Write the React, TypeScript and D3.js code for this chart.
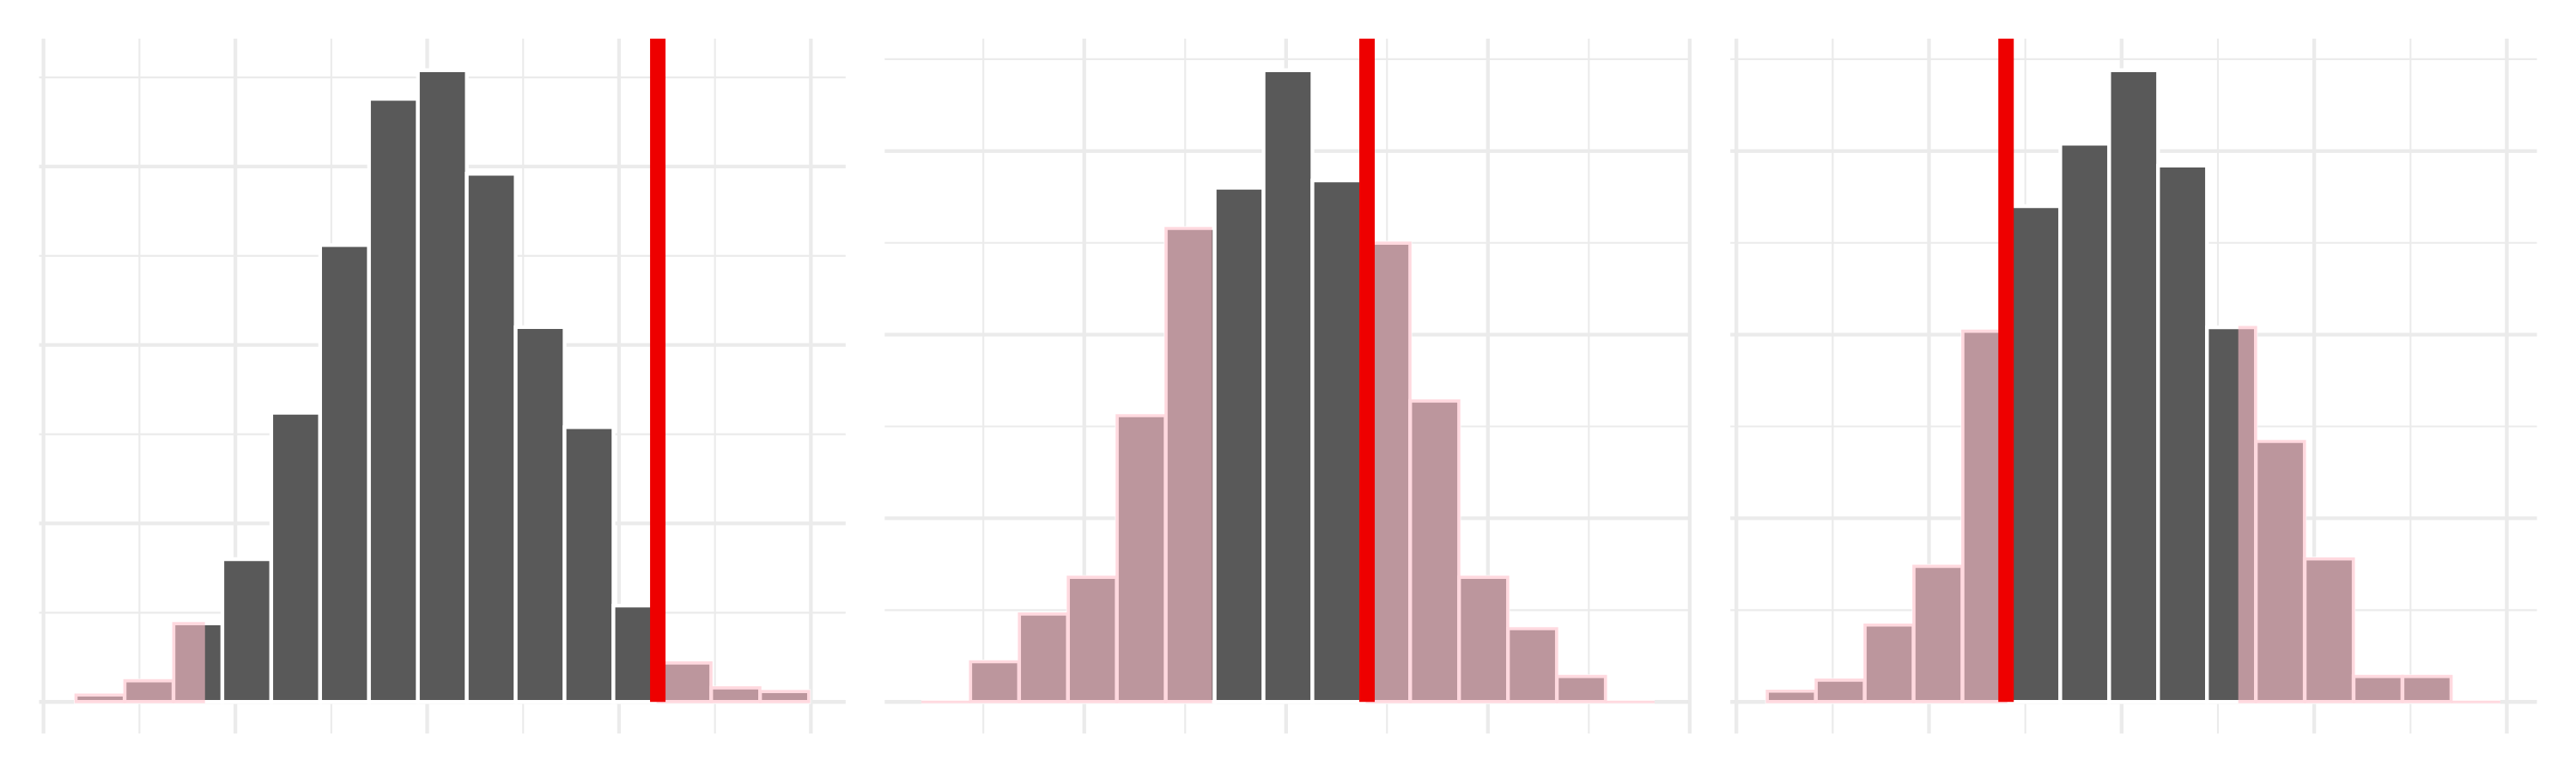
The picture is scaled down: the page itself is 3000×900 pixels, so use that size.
import * as d3 from "d3";
import React, { useEffect, useRef } from "react";

// panel 1 (15 bins)
const binStart1 = -0.1832;
const binWidth1 = 0.02548;
const counts1 = [2, 6, 22, 40, 81, 128, 169, 177, 148, 105, 77, 27, 11, 4, 3];
const obsStat1 = 0.1202;
const mirrorStat1 = -0.1165;

// panel 2
const binStart2 = -0.1807;
const binWidth2 = 0.02422;
const counts2 = [0, 11, 24, 34, 78, 129, 140, 172, 142, 125, 82, 34, 20, 7, 0];
const obsStat2 = 0.0401;
const mirrorStat2 = -0.0373;

// panel 3
const binStart3 = -0.1841;
const binWidth3 = 0.02538;
const counts3 = [3, 6, 21, 37, 101, 135, 152, 172, 146, 102, 71, 39, 7, 7, 0];
const obsStat3 = -0.06;
const mirrorStat3 = 0.06125;

// grid breaks (no labels are shown)
const xMajorBreaks = [-0.2, -0.1, 0, 0.1, 0.2];
const xMinorBreaks = [-0.15, -0.05, 0.05, 0.15];
const yMajorBreaks = [0, 50, 100, 150];
const yMinorBreaks = [25, 75, 125, 175];

const panels = [
  { binStart: binStart1, binWidth: binWidth1, counts: counts1, obs: obsStat1, mirror: mirrorStat1 },
  { binStart: binStart2, binWidth: binWidth2, counts: counts2, obs: obsStat2, mirror: mirrorStat2 },
  { binStart: binStart3, binWidth: binWidth3, counts: counts3, obs: obsStat3, mirror: mirrorStat3 },
];

const colorGrid = "#ebebeb";
const colorBar = "#595959";
const colorShade = "pink";
const colorObs = "#ee0000";

const PermutationPanels = () => {
  const d3Container = useRef(null);

  useEffect(() => {
    const width = 3000;
    const height = 900;
    const margin = { top: 45, right: 45.5, bottom: 46, left: 45.5 };
    const panelGap = 45.5;
    const panelWidth = (width - margin.left - margin.right - 2 * panelGap) / 3;
    const panelTop = margin.top;
    const panelBottom = height - margin.bottom;

    d3.select(d3Container.current).selectAll("*").remove();

    const svg = d3
      .select(d3Container.current)
      .append("svg")
      .attr("width", width)
      .attr("height", height)
      .style("position", "absolute")
      .style("left", 0)
      .style("top", 0)
      .style("background", "#fff");

    const barPath = (x0, x1, y0, y1) => `M${x0},${y0}H${x1}V${y1}H${x0}Z`;

    panels.forEach((p, i) => {
      const left = margin.left + i * (panelWidth + panelGap);
      const right = left + panelWidth;

      const bins = p.counts.map((c, k) => ({
        x0: p.binStart + k * p.binWidth,
        x1: p.binStart + (k + 1) * p.binWidth,
        count: c,
      }));

      // ggplot 스타일 5% 확장
      const xMin = bins[0].x0;
      const xMax = bins[bins.length - 1].x1;
      const xPad = (xMax - xMin) * 0.05;
      const x = d3.scaleLinear().domain([xMin - xPad, xMax + xPad]).range([left, right]);

      const yMax = d3.max(p.counts);
      const y = d3
        .scaleLinear()
        .domain([-0.05 * yMax, yMax * 1.05])
        .range([panelBottom, panelTop]);

      const g = svg.append("g");

      const inX = (v) => v >= x.domain()[0] && v <= x.domain()[1];
      const inY = (v) => v >= y.domain()[0] && v <= y.domain()[1];

      // minor grid
      g.selectAll(".hminor")
        .data(yMinorBreaks.filter(inY))
        .enter()
        .append("line")
        .attr("x1", left)
        .attr("x2", right)
        .attr("y1", (d) => y(d))
        .attr("y2", (d) => y(d))
        .attr("stroke", colorGrid)
        .attr("stroke-width", 2.15);

      g.selectAll(".vminor")
        .data(xMinorBreaks.filter(inX))
        .enter()
        .append("line")
        .attr("x1", (d) => x(d))
        .attr("x2", (d) => x(d))
        .attr("y1", panelTop)
        .attr("y2", panelBottom)
        .attr("stroke", colorGrid)
        .attr("stroke-width", 2.15);

      // major grid
      g.selectAll(".hmajor")
        .data(yMajorBreaks.filter(inY))
        .enter()
        .append("line")
        .attr("x1", left)
        .attr("x2", right)
        .attr("y1", (d) => y(d))
        .attr("y2", (d) => y(d))
        .attr("stroke", colorGrid)
        .attr("stroke-width", 4.3);

      g.selectAll(".vmajor")
        .data(xMajorBreaks.filter(inX))
        .enter()
        .append("line")
        .attr("x1", (d) => x(d))
        .attr("x2", (d) => x(d))
        .attr("y1", panelTop)
        .attr("y2", panelBottom)
        .attr("stroke", colorGrid)
        .attr("stroke-width", 4.3);

      // 히스토그램
      g.selectAll(".bar")
        .data(bins)
        .enter()
        .append("path")
        .attr("d", (d) => barPath(x(d.x0), x(d.x1), y(0), y(d.count)))
        .attr("fill", colorBar)
        .attr("stroke", "white")
        .attr("stroke-width", 4.3);

      // p-value 음영 영역
      const lo = Math.min(p.obs, p.mirror);
      const hi = Math.max(p.obs, p.mirror);
      const pieces = [];
      bins.forEach((b) => {
        if (b.x0 < lo) pieces.push({ x0: b.x0, x1: Math.min(b.x1, lo), count: b.count });
        if (b.x1 > hi) pieces.push({ x0: Math.max(b.x0, hi), x1: b.x1, count: b.count });
      });

      g.append("g")
        .attr("opacity", 0.6)
        .selectAll("path")
        .data(pieces)
        .enter()
        .append("path")
        .attr("d", (d) => barPath(x(d.x0), x(d.x1), y(0), y(d.count)))
        .attr("fill", colorShade)
        .attr("stroke", colorShade)
        .attr("stroke-width", 3);

      // 관측 통계량 라인
      g.append("rect")
        .attr("x", x(p.obs) - 9)
        .attr("width", 18)
        .attr("y", panelTop)
        .attr("height", y(0) - panelTop)
        .attr("fill", colorObs);
    });
  }, []);

  return <div ref={d3Container} />;
};

export default function App() {
  return <PermutationPanels />;
}
